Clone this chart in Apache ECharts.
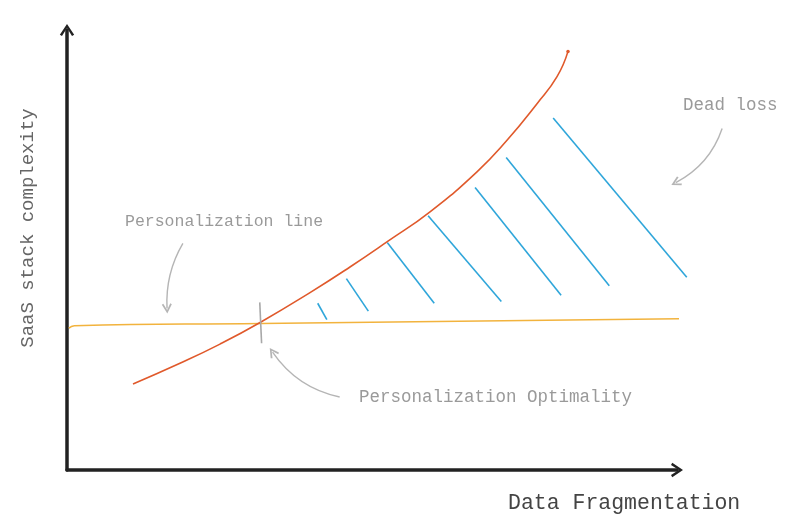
<!DOCTYPE html>
<html>
<head>
<meta charset="utf-8">
<script src="https://cdn.jsdelivr.net/npm/echarts@6/dist/echarts.min.js"></script>
<style>html,body{margin:0;padding:0;background:#fff}#c{width:800px;height:530px}</style>
</head>
<body>
<div id="c"></div>
<script>
// Cost curve (SaaS stack complexity vs data fragmentation)
var curveX = [10.82, 18.52, 25.08, 31.80, 39.84, 46.39, 52.62, 59.51, 67.21, 72.13, 77.05, 80.33, 82.13];
var curveY = [19.55, 24.25, 28.61, 33.64, 40.32, 46.14, 52.00, 58.68, 67.77, 74.93, 83.25, 89.39, 95.14];
// Personalization line
var persX = [0.3, 1.2, 31.8, 101.1];
var persY = [32.2, 32.8, 33.3, 34.4];
// Dead-loss hatch segments [x1, y1, x2, y2]
var hatchLines = [
  [41.1, 37.9, 42.6, 34.2],
  [45.8, 43.5, 49.4, 36.1],
  [52.5, 51.7, 60.2, 37.9],
  [59.2, 57.8, 71.2, 38.3],
  [66.9, 64.2, 81.0, 39.7],
  [72.0, 71.0, 88.9, 41.9],
  [79.7, 80.0, 101.6, 43.8]
];
// Optimality marker
var optimalityTick = [[31.6, 38.1], [31.9, 28.8]];
// Annotation arrows [fromX, fromY, toX, toY]
var noteArrows = [
  [19.0, 51.5, 16.4, 36.7],
  [44.7, 16.6, 33.7, 26.8],
  [107.4, 77.6, 99.8, 65.3]
];
var arrowBend = [-0.15, 0.2, 0.2];
var labels = {
  x: 'Data Fragmentation',
  y: 'SaaS stack complexity',
  line: 'Personalization line',
  opt: 'Personalization Optimality',
  loss: 'Dead loss'
};

function zip(a, b) { return a.map(function (v, i) { return [v, b[i]]; }); }

var chevron = 'path://M0,12 L8,0 L16,12 L13.6,13.4 L8,4.6 L2.4,13.4 Z';
var FONT = 'Liberation Mono';
var lastIdx = curveX.length - 1;

var chart = echarts.init(document.getElementById('c'));
chart.setOption({
  backgroundColor: '#ffffff',
  animation: false,
  grid: { left: 67, right: 123, top: 30, bottom: 60 },
  xAxis: {
    type: 'value', min: 0, max: 100,
    axisLine: { show: true, symbol: ['none', chevron], symbolSize: [16, 12],
      lineStyle: { color: '#222', width: 3.5 } },
    axisTick: { show: false }, axisLabel: { show: false }, splitLine: { show: false }
  },
  yAxis: {
    type: 'value', min: 0, max: 100,
    axisLine: { show: true, symbol: ['none', chevron], symbolSize: [16, 12],
      lineStyle: { color: '#222', width: 3.5 } },
    axisTick: { show: false }, axisLabel: { show: false }, splitLine: { show: false }
  },
  series: [
    {
      type: 'line', data: zip(persX, persY), smooth: true, showSymbol: false, clip: false,
      lineStyle: { color: '#f2b33d', width: 1.6 }, z: 3
    },
    {
      type: 'line', data: zip(curveX, curveY), smooth: 0.5, clip: false,
      showSymbol: true, symbol: 'circle',
      symbolSize: function (v, p) { return p.dataIndex === lastIdx ? 3.5 : 0; },
      itemStyle: { color: '#e0592b', borderWidth: 0 },
      lineStyle: { color: '#e0592b', width: 1.6 }, z: 4
    },
    {
      type: 'lines', coordinateSystem: 'cartesian2d', clip: false,
      data: hatchLines.map(function (h) { return { coords: [[h[0], h[1]], [h[2], h[3]]] }; }),
      lineStyle: { color: '#2fa6da', width: 1.6, opacity: 1 }, z: 3
    },
    {
      type: 'lines', coordinateSystem: 'cartesian2d', clip: false,
      data: [{ coords: optimalityTick }],
      lineStyle: { color: '#a8a8a8', width: 1.6, opacity: 1 }, z: 5
    },
    {
      type: 'lines', coordinateSystem: 'cartesian2d', clip: false,
      symbol: ['none', chevron], symbolSize: 10,
      data: noteArrows.map(function (a, i) {
        return { coords: [[a[0], a[1]], [a[2], a[3]]], lineStyle: { curveness: arrowBend[i] } };
      }),
      lineStyle: { color: '#b5b5b5', width: 1.4, opacity: 1 }, z: 5
    }
  ],
  graphic: [
    { type: 'text', x: 125, y: 222, style: { text: labels.line, font: '16.5px "' + FONT + '"', fill: '#9a9a9a', verticalAlign: 'middle' } },
    { type: 'text', x: 359, y: 397, style: { text: labels.opt, font: '17.5px "' + FONT + '"', fill: '#9a9a9a', verticalAlign: 'middle' } },
    { type: 'text', x: 683, y: 105, style: { text: labels.loss, font: '17.5px "' + FONT + '"', fill: '#9a9a9a', verticalAlign: 'middle' } },
    { type: 'text', x: 508, y: 503, style: { text: labels.x, font: '21.5px "' + FONT + '"', fill: '#444', verticalAlign: 'middle' } },
    { type: 'text', x: 28, y: 228, rotation: Math.PI / 2, style: { text: labels.y, font: '19px "' + FONT + '"', fill: '#666', align: 'center', verticalAlign: 'middle' } }
  ]
});
</script>
</body>
</html>
